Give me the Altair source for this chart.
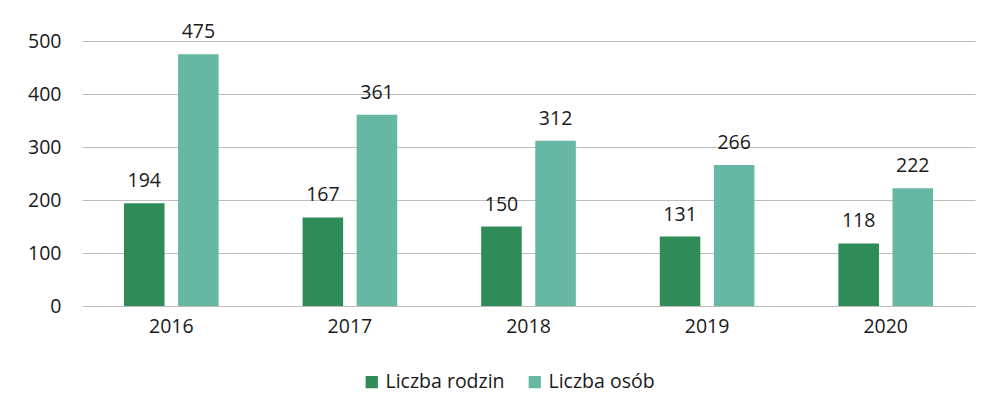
import altair as alt
import pandas as pd

years = ["2016", "2017", "2018", "2019", "2020"]
rodziny = [194, 167, 150, 131, 118]
osoby = [475, 361, 312, 266, 222]
series = ["Liczba rodzin", "Liczba osób"]
colors = ["#2f8c58", "#66b8a2"]

rows = []
for y, r, o in zip(years, rodziny, osoby):
    rows.append({"rok": y, "seria": series[0], "wartosc": r})
    rows.append({"rok": y, "seria": series[1], "wartosc": o})
df = pd.DataFrame(rows)

FONT = "Open Sans"
TXT = "#1a1a1a"

base = alt.Chart(df).encode(
    x=alt.X("rok:N", sort=years, title=None,
            scale=alt.Scale(paddingInner=0.47, paddingOuter=0.235),
            axis=alt.Axis(labelAngle=0, ticks=False, domain=False, labelPadding=11,
                          labelFontSize=19.5, labelColor=TXT, labelFont=FONT, grid=False)),
    xOffset=alt.XOffset("seria:N", sort=series, scale=alt.Scale(paddingInner=0.25)),
    y=alt.Y("wartosc:Q", title=None,
            scale=alt.Scale(domain=[0, 500], nice=False),
            axis=alt.Axis(values=[0, 100, 200, 300, 400, 500], ticks=False, domain=False,
                          labelPadding=21, labelFontSize=19.5, labelColor=TXT,
                          labelFont=FONT, gridColor="#bdbdbd", gridWidth=1.2)),
)

bars = base.mark_bar().encode(
    color=alt.Color("seria:N", sort=series,
                    scale=alt.Scale(domain=series, range=colors),
                    legend=alt.Legend(title=None, orient="none", direction="horizontal",
                                      legendX=280, legendY=331, symbolType="square",
                                      symbolSize=150, symbolStrokeWidth=0,
                                      labelFontSize=19.5, labelFont=FONT,
                                      labelColor=TXT, columnPadding=20,
                                      labelOffset=4)),
)

labels = base.mark_text(baseline="bottom", dy=-12, fontSize=19.5, font=FONT,
                        color=TXT).encode(text="wartosc:Q")

chart = alt.layer(bars, labels).properties(
    width=893, height=265,
    autosize=alt.AutoSizeParams(type="none"),
    padding={"left": 74, "top": 33, "right": 3, "bottom": 100},
    background="white",
).configure_view(stroke=None)

chart.save("out.html", embed_options={"renderer": "svg", "actions": False})
